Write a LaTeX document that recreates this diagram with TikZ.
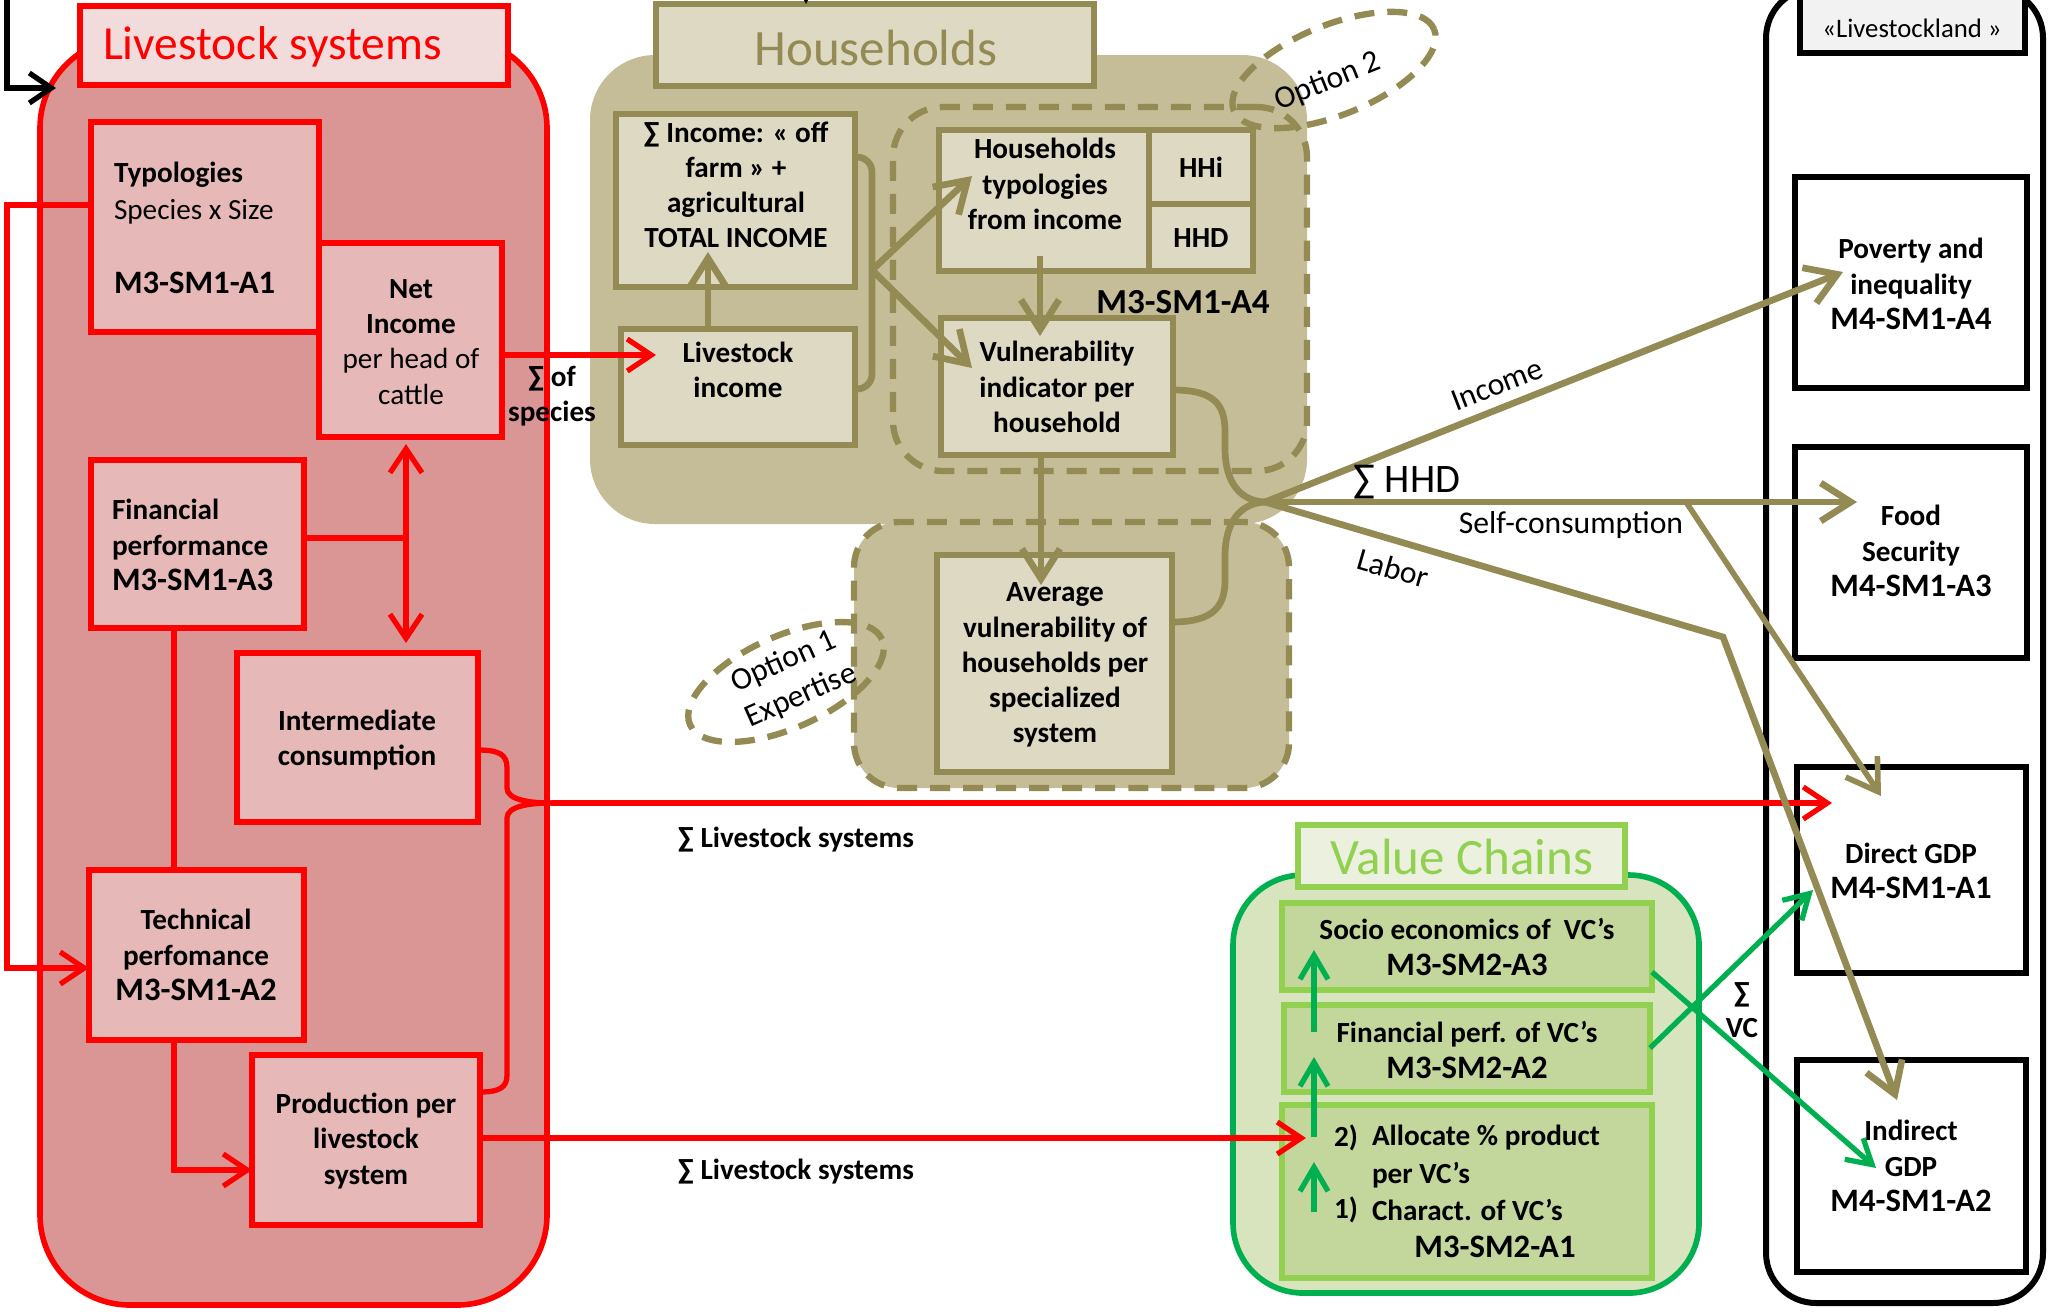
\documentclass[tikz,border=0pt]{standalone}
\usepackage{fontspec}
\setmainfont{Carlito}
\usetikzlibrary{arrows.meta,fit,shapes.geometric}
\definecolor{lsred}{HTML}{FF0000}
\definecolor{lsbgc}{HTML}{D99694}
\definecolor{lsboxc}{HTML}{E6B9B8}
\definecolor{lstitc}{HTML}{F2DCDB}
\definecolor{hhbgc}{HTML}{C4BD97}
\definecolor{hhboxc}{HTML}{DDD9C3}
\definecolor{hhline}{HTML}{948A54}
\definecolor{vcbgc}{HTML}{D7E4BD}
\definecolor{vcboxc}{HTML}{C3D69B}
\definecolor{vcline}{HTML}{92D050}
\definecolor{vcgreen}{HTML}{00B050}
\definecolor{vctitc}{HTML}{EBF1DE}
\definecolor{lltitc}{HTML}{F2F2F2}
\newcommand\bodyf{\fontsize{8.3}{10}\selectfont\bfseries}
\newcommand\regf{\fontsize{8.3}{10}\selectfont}
\newcommand\codef{\fontsize{9.3}{10.5}\selectfont\bfseries}
\newcommand\optf{\fontsize{9}{11}\selectfont}
\begin{document}
\begin{tikzpicture}[x=0.01cm,y=-0.01cm,
  every node/.style={inner sep=0pt, outer sep=0pt},
  txt/.style={font=\bodyf, align=center, text=black},
  rbox/.style={draw=lsred, fill=lsboxc, line width=1.6pt},
  hbox/.style={draw=hhline, fill=hhboxc, line width=1.6pt},
  gbox/.style={draw=vcline, fill=vcboxc, line width=1.6pt},
  kbox/.style={draw=black, fill=white, line width=1.7pt},
  dashline/.style={draw=hhline, line width=1.8pt, dash pattern=on 0.2cm off 0.13cm},
  rline/.style={draw=lsred, line width=1.5pt},
  tline/.style={draw=hhline, line width=1.9pt},
  gline/.style={draw=vcgreen, line width=1.5pt},
  rtip/.style={-{Straight Barb[length=0.24cm,width=0.32cm]}},
  ttip/.style={-{Straight Barb[length=0.3cm,width=0.38cm]}},
  gtip/.style={-{Straight Barb[length=0.24cm,width=0.28cm]}}
]
\useasboundingbox (0,0) rectangle (2055,1311);

% ---------- containers ----------
\node[fit={(40,38) (547,1305)}, rounded corners=0.9cm, draw=lsred, fill=lsbgc, line width=1.6pt] (lsbg) {};
\node[fit={(590,55) (1307,524)}, rounded corners=0.65cm, fill=hhbgc] (hhbg) {};
\node[fit={(854,522) (1289,788)}, rounded corners=0.45cm, fill=hhbgc, dashline] (avgbg) {};
\node[fit={(893,107) (1307,471)}, rounded corners=0.5cm, dashline] (a4grp) {};
\node[fit={(1233,875) (1699,1293)}, rounded corners=0.7cm, draw=vcgreen, fill=vcbgc, line width=1.6pt] (vcbg) {};
\node[fit={(1766,-12) (2043,1303)}, rounded corners=0.5cm, draw=black, line width=1.7pt] (llbg) {};

% ---------- title boxes ----------
\node[fit={(80,6) (508,85)}, draw=lsred, fill=lstitc, line width=1.6pt] (lstitle) {};
\node[fit={(656,4) (1094,86)}, draw=hhline, fill=hhboxc, line width=1.6pt] (hhtitle) {};
\node[fit={(1298,825) (1625,887)}, draw=vcline, fill=vctitc, line width=1.6pt] (vctitle) {};
\node[fit={(1800,-12) (2025,53)}, draw=black, fill=lltitc, line width=1.6pt] (lltitle) {};

% ---------- red boxes ----------
\node[rbox, fit={(91,122) (319,332)}] (typ) {};
\node[rbox, fit={(319,243) (502,437)}] (net) {};
\node[rbox, fit={(91,460) (304,628)}] (fin) {};
\node[rbox, fit={(237,653) (478,822)}] (ic) {};
\node[rbox, fit={(89,870) (304,1040)}] (tech) {};
\node[rbox, fit={(252,1055) (480,1225)}] (prod) {};

% ---------- households boxes ----------
\node[hbox, fit={(616,114) (855,287)}] (inc) {};
\node[hbox, fit={(621,329) (855,445)}] (li) {};
\node[hbox, fit={(939,130) (1149,271)}] (typh) {};
\node[hbox, fit={(1149,130) (1253,204)}] (hhi) {};
\node[hbox, fit={(1149,204) (1253,271)}] (hhd) {};
\node[hbox, fit={(941,318) (1173,455)}] (vul) {};
\node[hbox, fit={(937,555) (1172,772)}] (avg) {};
\node[ellipse, dashline, minimum width=2.1cm, minimum height=0.92cm, rotate=24] (opt1) at (786,682) {};
\node[ellipse, dashline, minimum width=2.16cm, minimum height=0.9cm, rotate=22] (opt2) at (1334,70) {};

% ---------- value chain boxes ----------
\node[gbox, fit={(1282,903) (1652,990)}] (socio) {};
\node[gbox, fit={(1284,1005) (1650,1092)}] (finvc) {};
\node[gbox, fit={(1282,1105) (1652,1278)}] (alloc) {};

% ---------- livestockland boxes ----------
\node[kbox, fit={(1795,177) (2027,388)}] (pov) {};
\node[kbox, fit={(1795,447) (2027,658)}] (food) {};
\node[kbox, fit={(1797,767) (2026,973)}] (dgdp) {};
\node[kbox, fit={(1797,1060) (2026,1272)}] (igdp) {};

% ---------- coordinates ----------
\coordinate (kstart) at (7,-10);
\coordinate (lsin) at (56,88);
\coordinate (hhtop) at (806,-10);
\coordinate (liin) at (656,355);
\coordinate (merge) at (552,803);
\coordinate (dgdpin) at (1832,803);
\coordinate (allocin) at (1306,1138);
\coordinate (incin) at (708,252);
\coordinate (brk) at (872,270);
\coordinate (typhin) at (972,176);
\coordinate (vulin) at (972,368);
\coordinate (typhout) at (1040,256);
\coordinate (vulin2) at (1040,336);
\coordinate (avgin) at (1041,585);
\coordinate (hub) at (1265,502);
\coordinate (povin) at (1843,272);
\coordinate (foodin) at (1857,502);
\coordinate (scbr) at (1686,502);
\coordinate (dgdpin2) at (1881,796);
\coordinate (labbend) at (1723,637);
\coordinate (igdpin) at (1897,1100);
\coordinate (g1a) at (1314,1032);
\coordinate (g1b) at (1314,950);
\coordinate (g2a) at (1314,1137);
\coordinate (g2b) at (1314,1057);
\coordinate (g3a) at (1314,1212);
\coordinate (g3b) at (1314,1162);
\coordinate (dgdpin3) at (1813,890);
\coordinate (igdpin2) at (1876,1168);

% ---------- black connectors ----------
\draw[black, line width=1.5pt, -{Straight Barb[length=0.22cm,width=0.3cm]}] (kstart) |- (lsin);
\draw[black, line width=0.8pt, -{Triangle[length=0.06cm,width=0.06cm]}] (hhtop) -- (hhtitle.north -| hhtop);

% ---------- red connectors ----------
\draw[rline, rtip] (typ.west |- 0,205) -- (7,205) |- (tech.west |- 0,968);
\draw[rline, rtip] (net.east |- liin) -- (liin);
\draw[rline] (fin.east |- 0,538) -- (406,538);
\draw[rline, {Straight Barb[length=0.24cm,width=0.32cm]}-{Straight Barb[length=0.24cm,width=0.32cm]}, shorten <=0.07cm, shorten >=0.1cm] (net.south -| 406,0) -- (ic.north -| 406,0);
\draw[rline] (fin.south -| 174,0) -- (tech.north -| 174,0);
\draw[rline, rtip] (tech.south -| 174,0) |- (prod.west |- 0,1170);
\draw[rline] (ic.east |- 0,750) .. controls (500,750) and (507,755) .. (507,768) -- (507,788) .. controls (507,800) and (530,803) .. (merge);
\draw[rline] (prod.east |- 0,1092) .. controls (500,1092) and (507,1087) .. (507,1075) -- (507,818) .. controls (507,806) and (530,803) .. (merge);
\draw[rline, rtip] (merge) -- (dgdpin);
\draw[rline, rtip] (prod.east |- allocin) -- (allocin);

% ---------- households connectors ----------
\draw[tline, ttip] (li.north -| incin) -- (incin);
\draw[tline, rounded corners=0.15cm] (inc.east |- 0,157) -| (brk) |- (li.east |- 0,389);
\draw[tline, ttip] (brk) -- (typhin);
\draw[tline, ttip] (brk) -- (vulin);
\draw[tline, ttip] (typhout) -- (vulin2);
\draw[tline, ttip] (vul.south -| avgin) -- (avgin);
\draw[tline] (vul.east |- 0,390) .. controls (1215,390) and (1225,405) .. (1225,432) -- (1225,448) .. controls (1225,485) and (1242,501) .. (hub);
\draw[tline] (avg.east |- 0,622) .. controls (1215,622) and (1225,605) .. (1225,580) -- (1225,556) .. controls (1225,520) and (1242,503) .. (hub);
\draw[tline, ttip] (hub) -- (povin);
\draw[tline, ttip] (hub) -- (foodin);
\draw[tline, line width=1.6pt, ttip] (scbr) -- (dgdpin2);
\draw[tline, ttip] (hub) -- (labbend) -- (igdpin);

% ---------- green connectors ----------
\draw[gline, gtip] (g1a) -- (g1b);
\draw[gline, gtip] (g2a) -- (g2b);
\draw[gline, gtip] (g3a) -- (g3b);
\draw[gline, gtip] (finvc.east |- 0,1048) -- (dgdpin3);
\draw[gline, gtip] (socio.east |- 0,972) -- (igdpin2);

% ---------- titles ----------
\node[anchor=west, font=\fontsize{13.5}{15}\selectfont, text=lsred] (lstitle-t) at (103,47) {Livestock systems};
\node[font=\fontsize{14.5}{16}\selectfont, text=hhline] (hhtitle-t) at (876,48) {Households};
\node[font=\fontsize{14.5}{16}\selectfont, text=vcline] (vctitle-t) at (1462,857) {Value Chains};
\node[font=\fontsize{7.6}{9}\selectfont] (lltitle-t) at (1912,28) {«Livestockland »};

% ---------- red texts ----------
\node[anchor=west, font=\bodyf] (typ-t1) at (114,175) {Typologies};
\node[anchor=west, font=\regf] (typ-t2) at (114,212) {Species x Size};
\node[anchor=west, font=\codef] (typ-t3) at (114,283) {M3-SM1-A1};
\node[txt] (net-t) at (411,342) {Net\\Income\\{\mdseries per head of}\\{\mdseries cattle}};
\node[txt, align=left, anchor=west] (fin-t) at (112,545) {Financial\\performance\\{\codef M3-SM1-A3}};
\node[txt] (ic-t) at (357,740) {Intermediate\\consumption};
\node[txt] (tech-t) at (196,955) {Technical\\perfomance\\{\codef M3-SM1-A2}};
\node[txt] (prod-t) at (366,1141) {Production per\\livestock\\system};
\node[txt] (sumsp) at (552,396) {∑ of\\species};
\node[txt] (sumls1) at (796,840) {∑ Livestock systems};
\node[txt] (sumls2) at (796,1172) {∑ Livestock systems};

% ---------- households texts ----------
\node[txt] (inc-t) at (736,185) {∑ Income: « off\\farm » +\\agricultural\\TOTAL INCOME};
\node[txt] (li-t) at (738,370) {Livestock\\income};
\node[txt] (typh-t) at (1045,184) {Households\\typologies\\from income};
\node[txt] (hhi-t) at (1201,167) {HHi};
\node[txt] (hhd-t) at (1201,238) {HHD};
\node[font=\fontsize{10}{12}\selectfont\bfseries] (a4-t) at (1183,302) {M3-SM1-A4};
\node[txt] (vul-t) at (1057,387) {Vulnerability\\indicator per\\household};
\node[txt] (avg-t) at (1055,665) {Average\\vulnerability of\\households per\\specialized\\system};
\node[font=\optf, rotate=24] (opt1-ta) at (784,662) {Option 1};
\node[font=\optf, rotate=24] (opt1-tb) at (801,696) {Expertise};
\node[font=\optf, rotate=22] (opt2-t) at (1328,82) {Option 2};
\node[font=\optf, rotate=21] (inc-l) at (1497,385) {Income};
\node[font=\fontsize{11.5}{13}\selectfont] (hhd-l) at (1407,482) {∑ HHD};
\node[font=\optf] (sc-l) at (1571,525) {Self-consumption};
\node[font=\optf, rotate=-16] (lab-l) at (1393,568) {Labor};

% ---------- value chain texts ----------
\node[txt] (socio-t) at (1467,947) {Socio economics of\ \ VC’s\\{\codef M3-SM2-A3}};
\node[txt] (finvc-t) at (1467,1050) {Financial perf. of VC’s\\{\codef M3-SM2-A2}};
\node[anchor=west, font=\bodyf] (al-2) at (1334,1138) {2)};
\node[anchor=west, font=\bodyf] (al-2a) at (1372,1138) {Allocate \% product};
\node[anchor=west, font=\bodyf] (al-2b) at (1372,1175) {per VC’s};
\node[anchor=west, font=\bodyf] (al-1) at (1334,1210) {1)};
\node[anchor=west, font=\bodyf] (al-1a) at (1372,1210) {Charact. of VC’s};
\node[font=\codef] (al-code) at (1495,1247) {M3-SM2-A1};
\node[txt] (sumvc) at (1742,1010) {∑\\VC};

% ---------- livestockland texts ----------
\node[txt] (pov-t) at (1911,284) {Poverty and\\inequality\\{\codef M4-SM1-A4}};
\node[txt] (food-t) at (1911,551) {Food\\Security\\{\codef M4-SM1-A3}};
\node[txt] (dgdp-t) at (1911,871) {Direct GDP\\{\codef M4-SM1-A1}};
\node[txt] (igdp-t) at (1911,1166) {Indirect\\GDP\\{\codef M4-SM1-A2}};
\end{tikzpicture}
\end{document}
